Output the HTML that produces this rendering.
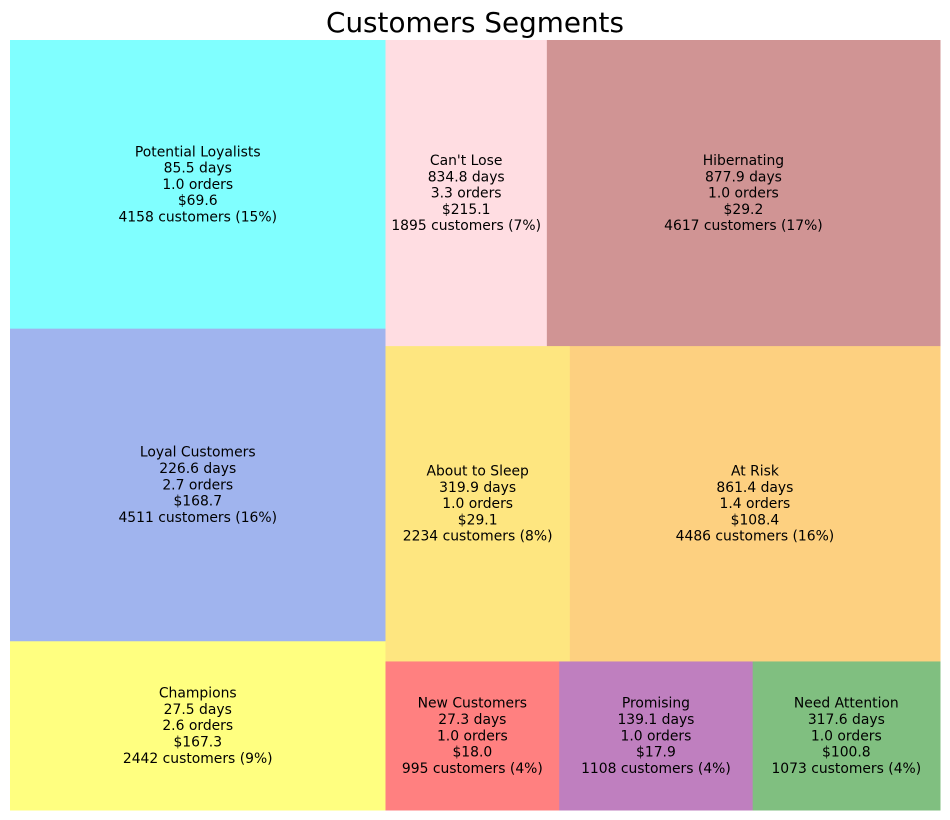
<!DOCTYPE html>
<html><head><meta charset="utf-8"><style>
html,body{margin:0;padding:0;background:#fff;}
svg{display:block;font-family:"DejaVu Sans","Liberation Sans",sans-serif;}
</style></head><body>
<svg id="chart" width="950" height="820" viewBox="0 0 950 820">
<text x="475" y="32" text-anchor="middle" font-size="27.8" fill="#000">Customers Segments</text>
<g id="cells"></g>
</svg>
<script>
const segments = ["Champions","Loyal Customers","Potential Loyalists","New Customers","Promising","Need Attention","About to Sleep","At Risk","Can't Lose","Hibernating"];
const customers = [2442,4511,4158,995,1108,1073,2234,4486,1895,4617];
const recencyDays = [27.5,226.6,85.5,27.3,139.1,317.6,319.9,861.4,834.8,877.9];
const avgOrders = [2.6,2.7,1.0,1.0,1.0,1.0,1.0,1.4,3.3,1.0];
const avgMoney = [167.3,168.7,69.6,18.0,17.9,100.8,29.1,108.4,215.1,29.2];
const fills = ["#ffff80","#a0b4ee","#80ffff","#ff8080","#bf7fbf","#80bf80","#fee680","#fdd080","#ffdde2","#d09494"];

function layoutrow(s,x,y,dx,dy){const c=s.reduce((a,b)=>a+b,0),w=c/dy;const r=[];for(const v of s){r.push({x:x,y:y,dx:w,dy:v/w});y+=v/w;}return r;}
function layoutcol(s,x,y,dx,dy){const c=s.reduce((a,b)=>a+b,0),h=c/dx;const r=[];for(const v of s){r.push({x:x,y:y,dx:v/h,dy:h});x+=v/h;}return r;}
function layout(s,x,y,dx,dy){return dx>=dy?layoutrow(s,x,y,dx,dy):layoutcol(s,x,y,dx,dy);}
function leftover(s,x,y,dx,dy){const c=s.reduce((a,b)=>a+b,0);if(dx>=dy){const w=c/dy;return [x+w,y,dx-w,dy];}const h=c/dx;return [x,y+h,dx,dy-h];}
function worst(s,x,y,dx,dy){return Math.max(...layout(s,x,y,dx,dy).map(r=>Math.max(r.dx/r.dy,r.dy/r.dx)));}
function squarify(s,x,y,dx,dy){
  if(!s.length)return[]; if(s.length===1)return layout(s,x,y,dx,dy);
  let i=1; while(i<s.length && worst(s.slice(0,i),x,y,dx,dy)>=worst(s.slice(0,i+1),x,y,dx,dy)) i++;
  const cur=s.slice(0,i),rem=s.slice(i); const lo=leftover(cur,x,y,dx,dy);
  return layout(cur,x,y,dx,dy).concat(squarify(rem,lo[0],lo[1],lo[2],lo[3]));
}
const total = customers.reduce((a,b)=>a+b,0);
const norm = customers.map(v=>v*100*100/total);
const rects = squarify(norm,0,0,100,100);
const X0=10,X1=940,Y0=40,Y1=810;
const sx=v=>X0+v/100*(X1-X0), sy=v=>Y1-v/100*(Y1-Y0);
const g=document.getElementById('cells'); const NS="http://www.w3.org/2000/svg";
rects.forEach((r,i)=>{
  const cell=document.createElementNS(NS,'g');
  
  
  const x=sx(r.x),y=sy(r.y+r.dy),w=sx(r.x+r.dx)-x,h=sy(r.y)-y;
  const rc=document.createElementNS(NS,'rect');
  rc.setAttribute('x',x);rc.setAttribute('y',y);rc.setAttribute('width',w+0.5);rc.setAttribute('height',h+0.5);rc.setAttribute('fill',fills[i]);
  
  
  cell.appendChild(rc);
  const lines=[segments[i],recencyDays[i].toFixed(1)+' days',avgOrders[i].toFixed(1)+' orders','$'+avgMoney[i].toFixed(1),customers[i]+' customers ('+Math.round(customers[i]/total*100)+'%)'];
  const cx=x+w/2,cy=y+h/2,lh=16.3;
  const t=document.createElementNS(NS,'text');
  t.setAttribute('text-anchor','middle');t.setAttribute('font-size','13.9');t.setAttribute('fill','#000');
  
  
  lines.forEach((l,k)=>{const ts=document.createElementNS(NS,'tspan');ts.setAttribute('x',cx);ts.setAttribute('y',cy+(k-2)*lh+4.8);ts.textContent=l;t.appendChild(ts);});
  cell.appendChild(t);
  g.appendChild(cell);
});
</script>
</body></html>
